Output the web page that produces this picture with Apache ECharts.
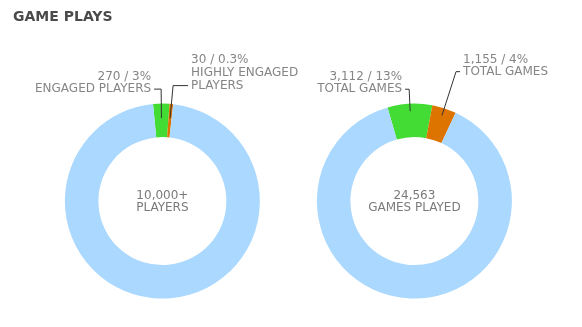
<!DOCTYPE html>
<html><head><meta charset="utf-8">
<script src="https://cdn.jsdelivr.net/npm/echarts@6/dist/echarts.min.js"></script>
<style>html,body{margin:0;padding:0;background:#fff}#c{width:582px;height:327px}</style>
</head><body><div id="c"></div>
<script>
// Data
var chartTitle = 'GAME PLAYS';
var playerNames = ['ENGAGED PLAYERS', 'HIGHLY ENGAGED\nPLAYERS', 'OTHER PLAYERS'];
var playerLabels = ['270 / 3%', '30 / 0.3%', ''];
var playerValues = [2.7, 0.6, 96.7];   // slice shares as drawn
var playerCenter = ['10,000+', 'PLAYERS'];
var gameNames = ['TOTAL GAMES', 'TOTAL GAMES', 'OTHER GAMES'];
var gameLabels = ['3,112 / 13%', '1,155 / 4%', ''];
var gameValues = [7.4, 4.0, 88.6];     // slice shares as drawn
var gameCenter = ['24,563', 'GAMES PLAYED'];

var colors = ['#43dc35', '#de7400', '#aad8ff'];
var FONT = 'DejaVu Sans';
var LH = 12;

// per-item label line styling (lengths) : [length, length2]
var leftLines = [[29, 7], [33, 15]];
var rightLines = [[22, 4], [46, 4]];

function ringData(names, values) {
  return values.map(function (v, i) {
    return { name: names[i], value: v, itemStyle: { color: colors[i] } };
  });
}
function labelData(names, labels, values, lines) {
  return values.map(function (v, i) {
    var show = i < 2;
    var d = { name: names[i], value: v };
    if (show) {
      var txt = labels[i] + '\n' + names[i];
      var n = txt.split('\n').length;
      var pad = '';
      for (var k = 1; k < n; k++) pad += '\n ';
      d.label = { show: true, formatter: txt + pad, lineHeight: n > 2 ? 13 : LH };
      d.labelLine = { show: true, length: lines[i][0], length2: lines[i][1] };
    } else {
      d.label = { show: false };
      d.labelLine = { show: false };
    }
    return d;
  });
}

var chart = echarts.init(document.getElementById('c'));
var W = 582, H = 327;
var cL = ['27.9%', '61.5%'], cR = ['71.2%', '61.5%'];
var ringR = [64, 97.5];

function labelSeries(center, r, startAngle, data) {
  return {
    type: 'pie', center: center, radius: [0, r], startAngle: startAngle,
    silent: true, z: 5, clockwise: true, avoidLabelOverlap: false,
    itemStyle: { color: 'rgba(0,0,0,0)' },
    emphasis: { disabled: true },
    label: {
      position: 'outside', color: '#858585', fontFamily: FONT, fontSize: 12,
      lineHeight: LH, distanceToLabelLine: 3
    },
    labelLine: { lineStyle: { color: '#333', width: 1 }, smooth: false },
    data: data
  };
}

chart.setOption({
  animation: false,
  title: {
    text: chartTitle, left: 8, top: 5,
    textStyle: { fontFamily: FONT, fontSize: 14, fontWeight: 'bold', color: '#4a4a4a' }
  },
  series: [
    {
      type: 'pie', center: cL, radius: ringR, startAngle: 95.5, silent: true,
      label: { show: false }, labelLine: { show: false },
      data: ringData(playerNames, playerValues)
    },
    {
      type: 'pie', center: cR, radius: ringR, startAngle: 106, silent: true,
      label: { show: false }, labelLine: { show: false },
      data: ringData(gameNames, gameValues)
    },
    labelSeries(cL, 83, 95.5, labelData(playerNames, playerLabels, playerValues, leftLines)),
    labelSeries(cR, 90, 106, labelData(gameNames, gameLabels, gameValues, rightLines))
  ],
  graphic: [
    { type: 'text', x: W * 0.279, y: H * 0.615 - 11, style: {
      text: playerCenter.join('\n'), align: 'center', verticalAlign: 'top',
      fill: '#7a7a7a', font: '12px "' + FONT + '"', lineHeight: 12 } },
    { type: 'text', x: W * 0.712, y: H * 0.615 - 11, style: {
      text: gameCenter.join('\n'), align: 'center', verticalAlign: 'top',
      fill: '#7a7a7a', font: '12px "' + FONT + '"', lineHeight: 12 } }
  ]
});
</script>
</body></html>
